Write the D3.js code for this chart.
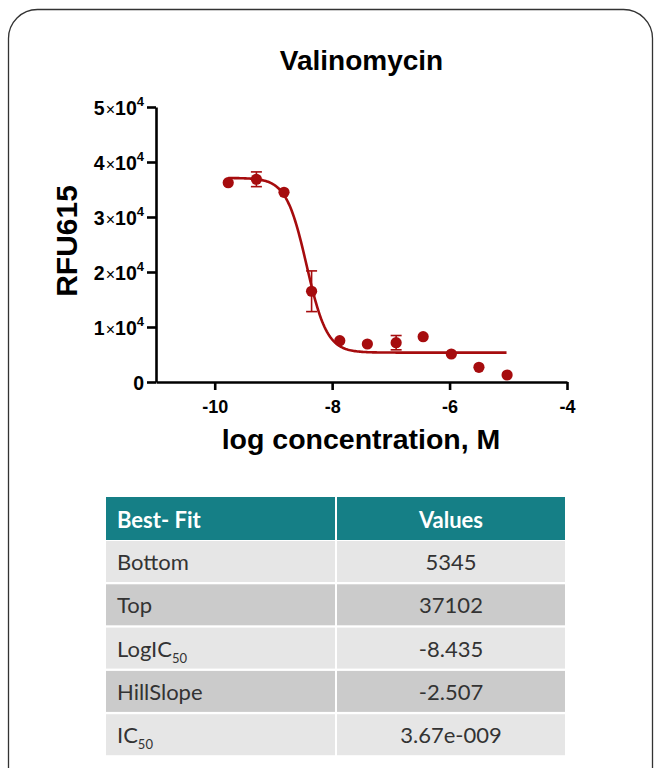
<!DOCTYPE html>
<html>
<head>
<meta charset="utf-8">
<script src="https://cdn.jsdelivr.net/npm/d3@7"></script>
<style>
  html, body { margin: 0; padding: 0; background: #ffffff; }
  svg { display: block; }
</style>
</head>
<body>
<div id="chart"></div>
<script>
// ---------- data ----------
const chartTitle = "Valinomycin";
const xLabel = "log concentration, M";
const yLabel = "RFU615";
const logConc = [-9.77, -9.29, -8.82, -8.35, -7.87, -7.40, -6.91, -6.45, -5.97, -5.50, -5.02];
const rfuMean = [36240, 36860, 34490, 16500, 7510, 6910, 7150, 8240, 5090, 2670, 1270];
const rfuErr  = [0, 1340, 0, 3700, 0, 0, 1300, 0, 0, 0, 0];
const xTicks = [-10, -8, -6, -4];
const yTicks = [0, 10000, 20000, 30000, 40000, 50000];
const yTickMantissa = ["0", "1", "2", "3", "4", "5"];
// best-fit table (4PL)
const tableHeader = ["Best- Fit", "Values"];
const paramNames = [["Bottom", ""], ["Top", ""], ["LogIC", "50"], ["HillSlope", ""], ["IC", "50"]];
const paramValues = ["5345", "37102", "-8.435", "-2.507", "3.67e-009"];
const fitBottom = 5345, fitTop = 37102, fitLogIC50 = -8.435, fitHill = -2.507;

// ---------- layout ----------
const W = 654, H = 768;
const red = "#a60c0e";
const svg = d3.select("#chart").append("svg").attr("width", W).attr("height", H);

// card border
svg.append("rect")
  .attr("x", 8.5).attr("y", 9.5).attr("width", 644).attr("height", 790)
  .attr("rx", 29).attr("ry", 29)
  .attr("fill", "#fff").attr("stroke", "#333").attr("stroke-width", 1.3);

const x = d3.scaleLinear().domain([-11, -4]).range([156, 567]);
const y = d3.scaleLinear().domain([0, 50000]).range([382, 107]);

// title
svg.append("text")
  .attr("x", 361.5).attr("y", 70)
  .attr("text-anchor", "middle")
  .attr("font-family", "Liberation Sans, Arial, sans-serif")
  .attr("font-weight", "bold").attr("font-size", 28)
  .attr("fill", "#000")
  .text(chartTitle);

// axes
const axisFont = "Liberation Sans, Arial, sans-serif";
const gx = svg.append("g").attr("transform", `translate(0,${y(0)})`)
  .call(d3.axisBottom(x).tickValues(xTicks).tickSize(8).tickSizeOuter(0).tickPadding(9)
    .tickFormat(d => d3.format("d")(d).replace("−", "-")));
const gy = svg.append("g").attr("transform", `translate(${x(-11)},0)`)
  .call(d3.axisLeft(y).tickValues(yTicks).tickSize(9).tickSizeOuter(0).tickPadding(3));

[gx, gy].forEach(g => {
  g.select(".domain").attr("stroke", "#000").attr("stroke-width", 2.6);
  g.selectAll(".tick line").attr("stroke", "#000").attr("stroke-width", 2.6);
  g.selectAll(".tick text").attr("fill", "#000")
    .attr("font-family", axisFont).attr("font-weight", "bold").attr("font-size", 18);
});
gx.selectAll(".tick text").attr("dy", "0.78em");

gy.selectAll(".tick text").each(function(d, i) {
  const t = d3.select(this);
  t.text(null).attr("dy", "0.36em").attr("font-size", 19.5);
  const m = yTickMantissa[yTicks.indexOf(d)];
  if (d === 0) { t.append("tspan").text(m); return; }
  t.append("tspan").text(m);
  t.append("tspan").attr("font-weight", "normal").attr("font-size", 16).attr("dx", 1).text("×");
  t.append("tspan").text("10");
  t.append("tspan").attr("font-size", 13).attr("dy", -9).text("4");
});

// axis titles
svg.append("text")
  .attr("x", 361).attr("y", 449)
  .attr("text-anchor", "middle")
  .attr("font-family", axisFont).attr("font-weight", "bold").attr("font-size", 28.5)
  .attr("fill", "#000")
  .text(xLabel);
svg.append("text")
  .attr("transform", "translate(77,241) rotate(-90)")
  .attr("text-anchor", "middle")
  .attr("font-family", axisFont).attr("font-weight", "bold").attr("font-size", 30)
  .attr("fill", "#000")
  .text(yLabel);

// fitted 4PL curve from the table's parameters
const xs = d3.range(logConc[0], logConc[logConc.length - 1] + 1e-9, 0.02);
const fit = xs.map(v => [v, fitBottom + (fitTop - fitBottom) / (1 + Math.pow(10, (fitLogIC50 - v) * fitHill))]);
svg.append("path")
  .datum(fit)
  .attr("fill", "none").attr("stroke", red).attr("stroke-width", 2.6)
  .attr("d", d3.line().x(d => x(d[0])).y(d => y(d[1])));

// error bars
const pts = logConc.map((v, i) => ({ x: v, y: rfuMean[i], e: rfuErr[i] }));
const eb = svg.append("g").attr("stroke", red).attr("stroke-width", 1.6);
pts.filter(p => p.e > 0).forEach(p => {
  eb.append("line").attr("x1", x(p.x)).attr("x2", x(p.x)).attr("y1", y(p.y - p.e)).attr("y2", y(p.y + p.e));
  [p.y - p.e, p.y + p.e].forEach(v => {
    eb.append("line").attr("x1", x(p.x) - 5.5).attr("x2", x(p.x) + 5.5).attr("y1", y(v)).attr("y2", y(v));
  });
});

// points
svg.append("g").selectAll("circle").data(pts).join("circle")
  .attr("cx", d => x(d.x)).attr("cy", d => y(d.y)).attr("r", 5.6)
  .attr("fill", red);

// ---------- table ----------
const tFont = "Lato, 'Open Sans', sans-serif";
const colX = [106, 337], colW = [229, 228];
const headTop = 497, headH = 43, rowTop = 541, rowPitch = 43.3, rowH = 41;
const tg = svg.append("g");
colX.forEach((cx, c) => {
  tg.append("rect").attr("x", cx).attr("y", headTop).attr("width", colW[c]).attr("height", headH).attr("fill", "#157f86");
});
tg.append("text").attr("x", 117).attr("y", headTop + 31)
  .attr("font-family", tFont).attr("font-weight", "bold").attr("font-size", 22).attr("fill", "#fff")
  .text(tableHeader[0]);
tg.append("text").attr("x", colX[1] + colW[1] / 2).attr("y", headTop + 31).attr("text-anchor", "middle")
  .attr("font-family", tFont).attr("font-weight", "bold").attr("font-size", 22).attr("fill", "#fff")
  .text(tableHeader[1]);

paramNames.forEach((nm, i) => {
  const top = rowTop + i * rowPitch;
  const fill = i % 2 === 0 ? "#e6e6e6" : "#cbcbcb";
  colX.forEach((cx, c) => {
    tg.append("rect").attr("x", cx).attr("y", top).attr("width", colW[c]).attr("height", rowH).attr("fill", fill);
  });
  const t = tg.append("text").attr("x", 117).attr("y", top + 29)
    .attr("font-family", tFont).attr("font-size", 22).attr("fill", "#333");
  t.append("tspan").text(nm[0]);
  if (nm[1]) t.append("tspan").attr("font-size", 13).attr("dy", 6).text(nm[1]);
  tg.append("text").attr("x", colX[1] + colW[1] / 2).attr("y", top + 29).attr("text-anchor", "middle")
    .attr("font-family", tFont).attr("font-size", 22).attr("fill", "#333")
    .text(paramValues[i]);
});
</script>
</body>
</html>
